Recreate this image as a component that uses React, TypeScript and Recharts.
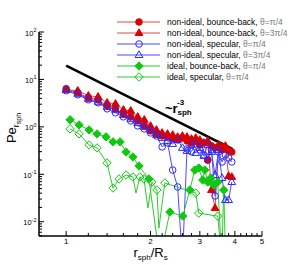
import { Legend, Line, LineChart, ReferenceDot, XAxis, YAxis } from "recharts";

const FONT = "'Liberation Sans', Arial, Helvetica, sans-serif";
const RED = "#dd0000";
const RED_LINE = "#e04848";
const BLUE = "#2a2aff";
const BLUE_LINE = "#4a4aff";
const GREEN = "#10c810";
const GREEN_LINE = "#2ccc2c";

// r_sph / R_s sampling of the non-ideal runs
const R_GRID = [
  1.0, 1.1, 1.2, 1.3, 1.4, 1.5, 1.6, 1.7, 1.8, 1.9,
  2.0, 2.1, 2.2, 2.3, 2.4, 2.5, 2.6, 2.7, 2.8, 2.9,
  3.0, 3.1, 3.2, 3.3, 3.4, 3.5, 3.6, 3.7, 3.8, 3.9,
];
const BB_PI4 = [
  6.36, 5.23, 4.1, 3.72, 2.78, 2.4, 1.88, 1.63, 1.34, 1.05,
  0.823, 0.711, 0.645, 0.615, 0.557, 0.531, 0.585, 0.506, 0.459, 0.506,
  0.416, 0.459, 0.2, 0.397, 0.36, 0.378, 0.327, 0.36, 0.311, 0.296,
];
const BB_3PI4 = [
  6.06, 5.77, 4.52, 4.31, 3.22, 3.06, 2.29, 2.18, 1.63, 1.41,
  1.05, 0.864, 0.747, 0.711, 0.677, 0.615, 0.645, 0.615, 0.557, 0.585,
  0.531, 0.459, 0.506, 0.0466, 0.0194, 0.416, 0.378, 0.397, 0.092, 0.088,
];
const SP_PI4 = [
  5.77, 4.75, 3.72, 3.22, 2.4, 1.98, 1.63, 1.34, 1.05, 0.907,
  0.747, 0.645, 0.378, 0.459, 0.123, 0.054, 0.0015, 0.343, 0.3, 0.437,
  0.327, 0.256, 0.2, 0.327, 0.035, 0.296, 0.182, 0.256, 0.221, 0.182,
];
const SP_3PI4 = [
  6.06, 4.99, 3.91, 3.38, 2.65, 2.29, 1.79, 1.48, 1.21, 1.0,
  0.864, 0.677, 0.585, 0.506, 0.437, 0.531, 0.36, 0.311, 0.416, 0.282,
  0.36, 0.244, 0.416, 0.296, 0.0966, 0.327, 0.0835, 0.0286, 0.0286, 0.0687,
];

// ideal runs
const IBB_X = [
  1.033, 1.112, 1.207, 1.289, 1.388, 1.47, 1.557, 1.636, 1.731, 1.819,
  1.974, 2.16, 2.345, 2.609, 2.763, 2.878, 2.973, 3.073, 3.124, 3.201,
  3.281, 3.363, 3.475, 3.591, 3.65, 3.71,
];
const IBB_Y = [
  1.41, 1.1, 0.864, 0.711, 0.615, 0.482, 0.482, 0.296, 0.232, 0.15,
  0.08, 0.0016, 0.016, 0.0131, 0.0466, 0.123, 0.136, 0.0758, 0.123, 0.0687,
  0.0835, 0.0594, 0.0687, 0.0016, 0.0466, 0.0016,
];
const ISP_X = [
  1.033, 1.112, 1.207, 1.289, 1.399, 1.47, 1.544, 1.636, 1.731, 1.775,
  1.833, 1.895, 1.958, 2.023, 2.108, 2.143, 2.25, 2.901, 2.973, 3.475, 3.591,
];
const ISP_Y = [
  0.907, 0.711, 0.416, 0.36, 0.173, 0.0513, 0.0796, 0.0966, 0.0877, 0.0402,
  0.0877, 0.0796, 0.0194, 0.0687, 0.0466, 0.00733, 0.0655, 0.0402, 0.0152, 0.0131, 0.0016,
];
const ISP_NO_MARK = [9, 12, 15];

// ~ r^-3 guide
const REF_X = [1, 3.93];
const REF_Y = [19.5, 0.34];
const ANNOT_X = 2.253;
const ANNOT_Y = 1.96;

const X_MAJOR = [1, 2, 3, 4, 5];
const X_MINOR = [1.2, 1.4, 1.6, 1.8, 2.2, 2.4, 2.6, 2.8, 3.2, 3.4, 3.6, 3.8, 4.2, 4.4, 4.6, 4.8];
const Y_MAJOR = [0.01, 0.1, 1, 10, 100];
const Y_EXP = ["-2", "-1", "0", "1", "2"];
const Y_MINOR = [0.001, 0.01, 0.1, 1, 10]
  .flatMap((d) => [2, 3, 4, 5, 6, 7, 8, 9].map((m) => +(d * m).toPrecision(3)))
  .filter((v) => v >= 0.005 && v < 100);

type Pt = { x: number; y: number; m: boolean };

function toPoints(xs: number[], ys: number[], noMark: number[] = []): Pt[] {
  return xs.map((x, i) => ({ x, y: ys[i], m: !noMark.includes(i) }));
}

const SERIES = [
  { key: "a", label: "non-ideal, bounce-back, ", theta: "θ=π/4", color: RED, line: RED_LINE, shape: "circle", filled: true, data: toPoints(R_GRID, BB_PI4) },
  { key: "b", label: "non-ideal, bounce-back, ", theta: "θ=3π/4", color: RED, line: RED_LINE, shape: "triangle", filled: true, data: toPoints(R_GRID, BB_3PI4) },
  { key: "c", label: "non-ideal, specular, ", theta: "θ=π/4", color: BLUE, line: BLUE_LINE, shape: "circle", filled: false, data: toPoints(R_GRID, SP_PI4) },
  { key: "d", label: "non-ideal, specular, ", theta: "θ=3π/4", color: BLUE, line: BLUE_LINE, shape: "triangle", filled: false, data: toPoints(R_GRID, SP_3PI4) },
  { key: "e", label: "ideal, bounce-back, ", theta: "θ=π/4", color: GREEN, line: GREEN_LINE, shape: "diamond", filled: true, data: toPoints(IBB_X, IBB_Y) },
  { key: "f", label: "ideal, specular, ", theta: "θ=π/4", color: GREEN, line: GREEN_LINE, shape: "diamond", filled: false, data: toPoints(ISP_X, ISP_Y, ISP_NO_MARK) },
];

const REF = toPoints(REF_X, REF_Y);

function Marker({ shape, filled, color, cx, cy }: { shape: string; filled: boolean; color: string; cx: number; cy: number }) {
  const fill = filled ? color : "none";
  if (shape === "circle") {
    return <circle cx={cx} cy={cy} r={3.3} fill={fill} stroke={color} strokeWidth={1} />;
  }
  if (shape === "triangle") {
    return (
      <polygon
        points={`${cx},${cy - 4.2} ${cx + 3.9},${cy + 2.5} ${cx - 3.9},${cy + 2.5}`}
        fill={fill}
        stroke={color}
        strokeWidth={1}
      />
    );
  }
  return (
    <polygon
      points={`${cx},${cy - 4.2} ${cx + 4.2},${cy} ${cx},${cy + 4.2} ${cx - 4.2},${cy}`}
      fill={fill}
      stroke={color}
      strokeWidth={1}
    />
  );
}

function XTick(props: any) {
  const { x, y, payload } = props;
  const major = X_MAJOR.includes(payload.value);
  return (
    <g>
      <line x1={x} x2={x} y1={y} y2={y - (major ? 5 : 3)} stroke="#000" strokeWidth={1} />
      {major && (
        <text x={x} y={y + 8} textAnchor="middle" fontSize={8} fontFamily={FONT} fill="#000">
          {payload.value}
        </text>
      )}
    </g>
  );
}

function YTick(props: any) {
  const { x, y, payload } = props;
  const idx = Y_MAJOR.indexOf(payload.value);
  const major = idx >= 0;
  return (
    <g>
      <line x1={x} x2={x + (major ? 5 : 3)} y1={y} y2={y} stroke="#000" strokeWidth={1} />
      {major && (
        <text x={x - 2.5} y={y + 3.5} textAnchor="end" fontSize={7.5} fontFamily={FONT} fill="#000">
          <tspan>10</tspan>
          <tspan dy={-3.5} fontSize={5.5}>
            {Y_EXP[idx]}
          </tspan>
        </text>
      )}
    </g>
  );
}

function YTitle(props: any) {
  const { viewBox } = props;
  const cy = viewBox.y + viewBox.height / 2 - 6;
  return (
    <text transform={`translate(16, ${cy}) rotate(-90)`} textAnchor="middle" fontFamily={FONT} fill="#000">
      <tspan fontSize={13}>Pe</tspan>
      <tspan fontSize={9} dy={3}>r</tspan>
      <tspan fontSize={7} dy={2}>sph</tspan>
    </text>
  );
}

function XTitle(props: any) {
  const { viewBox } = props;
  const cx = viewBox.x + viewBox.width / 2;
  return (
    <text x={cx} y={257} textAnchor="middle" fontFamily={FONT} fill="#000">
      <tspan fontSize={13}>r</tspan>
      <tspan fontSize={8} dy={3}>sph</tspan>
      <tspan fontSize={13} dy={-3}>/R</tspan>
      <tspan fontSize={8} dy={3}>s</tspan>
    </text>
  );
}

function SlopeLabel(props: any) {
  const { cx, cy } = props;
  return (
    <g fontFamily={FONT} fontWeight="bold" fill="#000">
      <text x={cx} y={cy} fontSize={13}>~r</text>
      <text x={cx + 12.5} y={cy + 2} fontSize={8}>sph</text>
      <text x={cx + 12} y={cy - 8} fontSize={8}>-3</text>
    </g>
  );
}

function LegendBox() {
  return (
    <svg width={186} height={72} style={{ display: "block" }}>
      {SERIES.map((s, i) => {
        const cy = 8 + i * 11;
        return (
          <g key={s.key}>
            <line x1={5} x2={48} y1={cy} y2={cy} stroke={s.line} strokeWidth={1} />
            <Marker shape={s.shape} filled={s.filled} color={s.color} cx={27} cy={cy} />
            <text x={55} y={cy + 3} fontSize={8.5} fontFamily={FONT} fill="#000">
              {s.label}
              <tspan fill="#777">{s.theta}</tspan>
            </text>
          </g>
        );
      })}
    </svg>
  );
}

export default function App() {
  return (
    <div style={{ position: "absolute", left: 0, top: 0 }}>
      <LineChart width={298} height={265} margin={{ top: 32, right: 36, bottom: 0, left: 0 }}>
        <XAxis
          type="number"
          dataKey="x"
          scale="log"
          domain={[0.8, 5]}
          allowDataOverflow
          ticks={[...X_MAJOR, ...X_MINOR]}
          interval={0}
          height={29}
          tickLine={false}
          tickSize={0}
          tickMargin={0}
          tick={<XTick />}
          axisLine={{ stroke: "#000", strokeWidth: 1.5 }}
          label={<XTitle />}
        />
        <YAxis
          type="number"
          scale="log"
          domain={[0.005, 100]}
          allowDataOverflow
          ticks={[...Y_MAJOR, ...Y_MINOR]}
          interval={0}
          width={39}
          tickLine={false}
          tickSize={0}
          tickMargin={0}
          tick={<YTick />}
          axisLine={{ stroke: "#000", strokeWidth: 1.5 }}
          label={<YTitle />}
        />
        <Legend
          layout="vertical"
          align="center"
          verticalAlign="middle"
          wrapperStyle={{ left: 112, top: 14, width: 186 }}
          content={() => <LegendBox />}
        />
        <Line
          data={REF}
          dataKey="y"
          stroke="#000"
          strokeWidth={2.6}
          dot={false}
          activeDot={false}
          isAnimationActive={false}
          legendType="none"
        />
        {SERIES.map((s) => (
          <Line
            key={s.key}
            name={s.label + s.theta}
            data={s.data}
            dataKey="y"
            stroke={s.line}
            strokeWidth={1}
            activeDot={false}
            isAnimationActive={false}
            dot={(p: any) =>
              p.payload.m ? (
                <Marker key={`${s.key}-${p.index}`} shape={s.shape} filled={s.filled} color={s.color} cx={p.cx} cy={p.cy} />
              ) : (
                <g key={`${s.key}-${p.index}`} />
              )
            }
          />
        ))}
        <ReferenceDot x={ANNOT_X} y={ANNOT_Y} r={0} ifOverflow="visible" shape={(p: any) => <SlopeLabel cx={p.cx} cy={p.cy} />} />
      </LineChart>
    </div>
  );
}
